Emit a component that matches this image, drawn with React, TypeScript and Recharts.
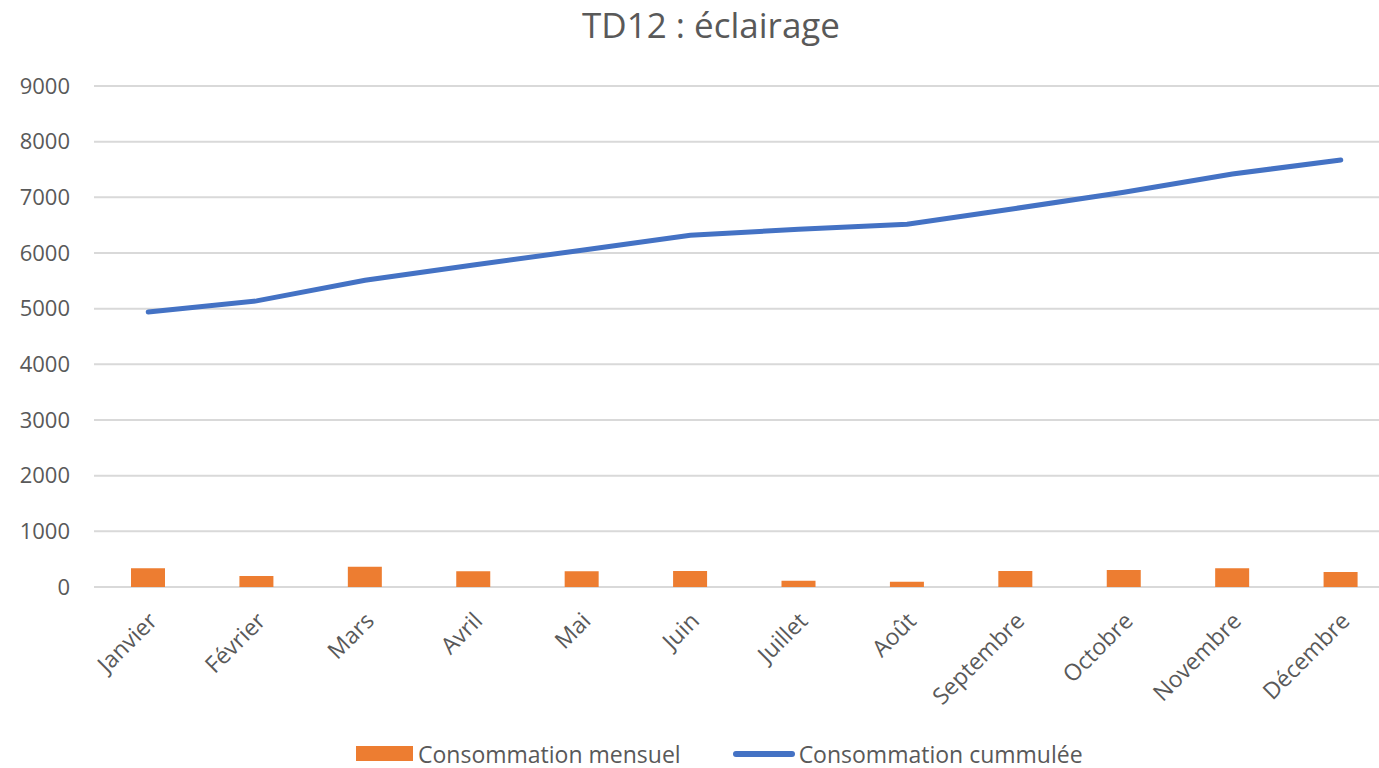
import { ComposedChart, Bar, Line, XAxis, YAxis, CartesianGrid, Legend } from 'recharts';

const months = ['Janvier', 'Février', 'Mars', 'Avril', 'Mai', 'Juin', 'Juillet', 'Août', 'Septembre', 'Octobre', 'Novembre', 'Décembre'];
const mensuel = [336, 198, 365, 282, 282, 287, 113, 95, 287, 305, 336, 269];
const cumulee = [4940, 5140, 5510, 5785, 6050, 6320, 6425, 6515, 6800, 7090, 7420, 7670];
const yTicks = [0, 1000, 2000, 3000, 4000, 5000, 6000, 7000, 8000, 9000];

const data = months.map((m, i) => ({ month: m, mensuel: mensuel[i], cumulee: cumulee[i] }));

const FONT = '"Open Sans", sans-serif';
const TEXT = '#595959';

function MonthTick(props: any) {
  const { x, y, payload } = props;
  return (
    <g transform={`translate(${x + 6},${y + 23})`}>
      <text transform="rotate(-45)" textAnchor="end" dominantBaseline="middle" fill={TEXT} fontSize={23} fontFamily={FONT}>
        {payload.value}
      </text>
    </g>
  );
}

function LegendBox() {
  return (
    <div style={{ display: 'flex', alignItems: 'center', height: 25, fontFamily: FONT, fontSize: 23, color: TEXT, paddingLeft: 356, whiteSpace: 'nowrap' }}>
      <span style={{ width: 57, height: 15, background: '#ED7D31', display: 'inline-block', marginRight: 5 }} />
      <span style={{ marginRight: 52 }}>Consommation mensuel</span>
      <span style={{ width: 62, height: 6, borderRadius: 3, background: '#4472C4', display: 'inline-block', marginRight: 4 }} />
      <span>Consommation cummulée</span>
    </div>
  );
}

export default function App() {
  return (
    <div style={{ position: 'absolute', left: 0, top: 0, width: 1379, height: 768, overflow: 'hidden', background: '#fff' }}>
      <div style={{ position: 'absolute', top: 1, left: 0, width: 1422, textAlign: 'center', fontFamily: FONT, fontSize: 35, color: TEXT }}>
        TD12 : éclairage
      </div>
      <ComposedChart width={1400} height={768} data={data} margin={{ top: 86, right: 5, bottom: 0, left: 0 }}>
        <CartesianGrid vertical={false} stroke="#d9d9d9" strokeWidth={2} />
        <XAxis dataKey="month" axisLine={false} tickLine={false} tick={<MonthTick />} height={156} interval={0} />
        <YAxis
          domain={[0, 9000]}
          ticks={yTicks}
          width={94}
          axisLine={false}
          tickLine={false}
          tick={{ fill: TEXT, fontSize: 22, fontFamily: FONT }}
          tickMargin={18}
        />
        <Legend verticalAlign="bottom" content={<LegendBox />} wrapperStyle={{ bottom: 2, left: 0 }} />
        <Bar dataKey="mensuel" fill="#ED7D31" barSize={34} isAnimationActive={false} />
        <Line dataKey="cumulee" type="linear" stroke="#4472C4" strokeWidth={5} strokeLinecap="round" dot={false} isAnimationActive={false} />
      </ComposedChart>
    </div>
  );
}
